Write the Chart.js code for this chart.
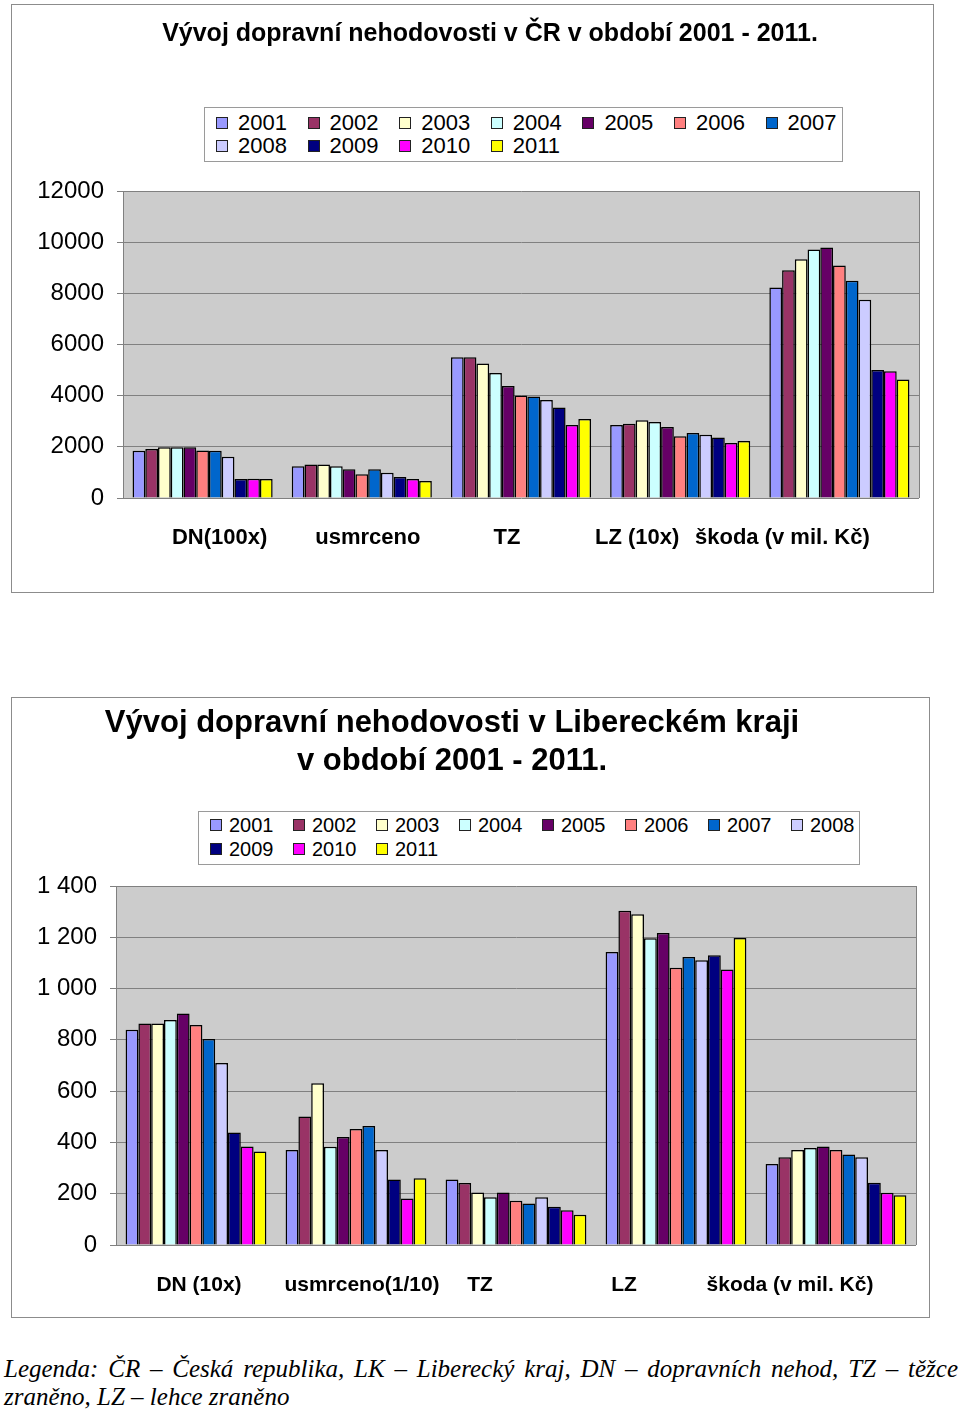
<!DOCTYPE html>
<html lang="cs">
<head>
<meta charset="utf-8">
<script src="https://cdn.jsdelivr.net/npm/chart.js@4/dist/chart.umd.min.js"></script>
<style>
    body { margin: 0; background: #fff; width: 960px; height: 1414px; position: relative; overflow: hidden;
           font-family: "Liberation Sans", Arial, sans-serif; }
    .box { position: absolute; border: 1px solid #8c8c8c; box-sizing: border-box; background: #fff; }
    .box canvas { position: absolute; left: 0; top: 0; }
    .title { position: absolute; text-align: center; font-weight: bold; white-space: nowrap; color: #000; }
    .legend { position: absolute; border: 1px solid #9a9a9a; box-sizing: border-box; background: #fff; overflow: visible; }
    .legend .rows { display: flex; flex-wrap: wrap; }
    .legend .item { display: flex; align-items: center; white-space: nowrap; }
    .legend .swatch { border: 1px solid #222; box-sizing: border-box; flex: none; }
    .note { position: absolute; left: 4px; width: 954px; font-family: "Liberation Serif", "Times New Roman", serif;
            font-style: italic; font-size: 25px; color: #000; white-space: nowrap; }
</style>
</head>
<body>

<div class="box" style="left:11px; top:4px; width:923px; height:589px;">
    <canvas id="chartCR" width="921" height="587"></canvas>
</div>
<div class="title" style="left:0; top:17px; width:980px; font-size:25px; line-height:30px;">Vývoj dopravní nehodovosti v ČR v období 2001 - 2011.</div>
<div class="legend" id="legendCR" style="left:204px; top:107px; width:639px; height:55px; padding:3px 0 0 11px;"></div>

<div class="box" style="left:11px; top:697px; width:919px; height:621px;">
    <canvas id="chartLK" width="917" height="619"></canvas>
</div>
<div class="title" style="left:0; top:703px; width:904px; font-size:31px; line-height:38px;">Vývoj dopravní nehodovosti v Libereckém kraji<br>v období 2001 - 2011.</div>
<div class="legend" id="legendLK" style="left:198px; top:811px; width:662px; height:54px; padding:1px 0 0 11px;"></div>

<div class="note" style="top:1355px; text-align:justify; text-align-last:justify; white-space:normal;">Legenda: ČR – Česká republika, LK – Liberecký kraj, DN – dopravních nehod, TZ – těžce</div>
<div class="note" style="top:1383px;">zraněno, LZ – lehce zraněno</div>

<script>
// Roky (řady) a barvy
const years = ['2001', '2002', '2003', '2004', '2005', '2006', '2007', '2008', '2009', '2010', '2011'];
const yearColors = ['#9999FF', '#993366', '#FFFFCC', '#CCFFFF', '#660066', '#FF8080', '#0066CC', '#CCCCFF', '#000080', '#FF00FF', '#FFFF00'];

// ČR
const crLabels = ['DN(100x)', 'usmrceno', 'TZ', 'LZ (10x)', 'škoda (v mil. Kč)'];
const crDN = [1850, 1915, 1980, 1980, 1985, 1855, 1850, 1615, 745, 750, 745];
const crUsmrceno = [1240, 1305, 1305, 1240, 1120, 925, 1120, 990, 820, 745, 665];
const crTZ = [5500, 5500, 5255, 4890, 4380, 4005, 3965, 3835, 3535, 2855, 3090];
const crLZ = [2855, 2905, 3040, 2975, 2775, 2410, 2540, 2475, 2360, 2150, 2230];
const crSkoda = [8225, 8905, 9335, 9715, 9790, 9085, 8490, 7745, 5005, 4955, 4630];
const crTicks = [0, 2000, 4000, 6000, 8000, 10000, 12000];

// Liberecký kraj
const lkLabels = ['DN (10x)', 'usmrceno(1/10)', 'TZ', 'LZ', 'škoda (v mil. Kč)'];
const lkDN = [839, 864, 864, 877, 903, 858, 803, 710, 439, 384, 365];
const lkUsmrceno = [370, 501, 631, 383, 421, 452, 464, 370, 255, 181, 260];
const lkTZ = [255, 242, 205, 186, 205, 173, 162, 186, 149, 136, 118];
const lkLZ = [1143, 1303, 1290, 1196, 1217, 1081, 1123, 1110, 1130, 1074, 1197];
const lkSkoda = [316, 342, 370, 378, 384, 370, 353, 342, 243, 204, 194];
const lkTicks = [0, 200, 400, 600, 800, 1000, 1200, 1400];

const FONT = '"Liberation Sans", Arial, sans-serif';

// pozadí grafu + pravý okraj + popisky kategorií (v Excelu nejsou přesně na středu)
const plotFrame = {
    id: 'plotFrame',
    beforeDraw(chart) {
        const a = chart.chartArea, ctx = chart.ctx;
        ctx.save();
        ctx.fillStyle = '#CCCCCC';
        ctx.fillRect(a.left, a.top, a.right - a.left, a.bottom - a.top);
        ctx.restore();
    },
    afterDraw(chart, args, opts) {
        const a = chart.chartArea, ctx = chart.ctx;
        ctx.save();
        ctx.strokeStyle = '#808080';
        ctx.lineWidth = 1;
        ctx.beginPath();
        ctx.moveTo(Math.round(a.right) + 0.5, a.top);
        ctx.lineTo(Math.round(a.right) + 0.5, a.bottom);
        ctx.stroke();
        const xs = chart.scales.x;
        ctx.fillStyle = '#000';
        ctx.font = 'bold ' + opts.fontSize + 'px ' + FONT;
        ctx.textAlign = 'center';
        ctx.textBaseline = 'middle';
        chart.data.labels.forEach((label, i) => {
            ctx.fillText(label, xs.getPixelForValue(i) + opts.offsets[i], a.bottom + 40);
        });
        ctx.restore();
    }
};

function formatThousands(v) {
    return String(v).replace(/\B(?=(\d{3})+(?!\d))/g, ' ');
}

function createChart(id, legendId, labels, rows, ticks, cfg) {
    const datasets = years.map((year, i) => ({
        label: year,
        data: rows.map(r => r[i]),
        backgroundColor: yearColors[i],
        borderColor: '#000',
        borderWidth: 1.5,
        barPercentage: 1,
        categoryPercentage: 0.88
    }));

    const chart = new Chart(document.getElementById(id), {
        type: 'bar',
        data: { labels: labels, datasets: datasets },
        options: {
            responsive: false,
            animation: false,
            layout: { padding: { top: cfg.top, right: cfg.right, left: 0, bottom: 0 } },
            plugins: {
                legend: { display: false },
                tooltip: { enabled: false },
                plotFrame: { offsets: cfg.offsets, fontSize: cfg.xFont }
            },
            scales: {
                x: {
                    grid: { display: false, drawTicks: false },
                    border: { display: false },
                    ticks: { display: false },
                    afterFit: s => { s.height = cfg.xHeight; }
                },
                y: {
                    min: ticks[0],
                    max: ticks[ticks.length - 1],
                    afterBuildTicks: s => { s.ticks = ticks.map(v => ({ value: v })); },
                    grid: { color: '#808080', lineWidth: 1, tickLength: 6 },
                    border: { display: true, color: '#808080', width: 1 },
                    ticks: {
                        color: '#000',
                        padding: 13,
                        font: { family: FONT, size: 24 },
                        callback: v => cfg.sep ? formatThousands(v) : String(v)
                    },
                    afterFit: s => { s.width = cfg.yWidth; }
                }
            }
        },
        plugins: [plotFrame]
    });

    // legenda v rámečku jako v Excelu
    const legend = document.getElementById(legendId);
    const rowsDiv = document.createElement('div');
    rowsDiv.className = 'rows';
    rowsDiv.style.width = (cfg.legendStep * cfg.legendPerRow) + 'px';
    legend.appendChild(rowsDiv);
    chart.data.datasets.forEach(ds => {
        const item = document.createElement('div');
        item.className = 'item';
        item.style.width = cfg.legendStep + 'px';
        item.style.height = cfg.legendRow + 'px';
        item.style.fontSize = cfg.legendFont + 'px';
        item.innerHTML = `<span class="swatch" style="width:12px;height:12px;margin-right:${cfg.legendGap}px;background:${ds.backgroundColor}"></span>${ds.label}`;
        rowsDiv.appendChild(item);
    });
    return chart;
}

createChart('chartCR', 'legendCR', crLabels, [crDN, crUsmrceno, crTZ, crLZ, crSkoda], crTicks, {
    top: 186, right: 14, yWidth: 111, xHeight: 94, xFont: 22, sep: false,
    offsets: [17, 6, -14, -43, -57],
    legendStep: 91.6, legendPerRow: 7, legendRow: 23, legendFont: 22, legendGap: 10
});

createChart('chartLK', 'legendLK', lkLabels, [lkDN, lkUsmrceno, lkTZ, lkLZ, lkSkoda], lkTicks, {
    top: 188, right: 13, yWidth: 104, xHeight: 72, xFont: 21, sep: true,
    offsets: [3, 6, -36, -52, -46],
    legendStep: 83, legendPerRow: 8, legendRow: 24, legendFont: 20, legendGap: 7
});
</script>
</body>
</html>
